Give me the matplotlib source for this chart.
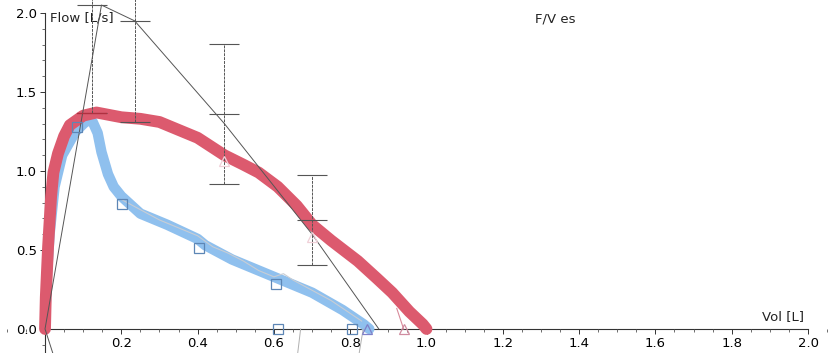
import numpy as np
import matplotlib
matplotlib.use('Agg')
import matplotlib.pyplot as plt
from matplotlib.ticker import MultipleLocator, FormatStrFormatter

# measured curve 1 (red, thick)
red_vol = [0.0, 0.002, 0.008, 0.016, 0.022, 0.034, 0.05, 0.065, 0.1, 0.135, 0.2, 0.25, 0.3, 0.35,
           0.40, 0.47, 0.52, 0.56, 0.61, 0.66, 0.70, 0.75, 0.82, 0.87, 0.91, 0.955, 0.99, 1.0]
red_flow = [0.0, 0.2, 0.52, 0.84, 0.99, 1.11, 1.22, 1.29, 1.35, 1.37, 1.34, 1.33, 1.31, 1.26,
            1.21, 1.10, 1.04, 0.99, 0.90, 0.78, 0.66, 0.56, 0.43, 0.32, 0.23, 0.11, 0.03, 0.0]

# measured curve 2 (blue, thick)
blue_vol = [0.0, 0.004, 0.012, 0.025, 0.045, 0.08, 0.11, 0.125, 0.138, 0.148, 0.165, 0.18, 0.2,
            0.25, 0.32, 0.4, 0.42, 0.49, 0.56, 0.61, 0.70, 0.78, 0.835, 0.85]
blue_flow = [0.0, 0.3, 0.6, 0.9, 1.1, 1.25, 1.32, 1.31, 1.24, 1.12, 0.98, 0.9, 0.84,
             0.73, 0.66, 0.57, 0.53, 0.44, 0.37, 0.32, 0.23, 0.12, 0.03, 0.0]

# thin trace over the blue curve
trace_vol = [0.2, 0.3, 0.4, 0.44, 0.48, 0.52, 0.56, 0.6, 0.625, 0.65, 0.75, 0.83]
trace_flow = [0.82, 0.69, 0.59, 0.52, 0.48, 0.43, 0.37, 0.33, 0.35, 0.31, 0.18, 0.05]

# predicted curve (thin dark line)
pred_vol = [0.02, 0.0, 0.148, 0.235, 0.47, 0.70, 0.875]
pred_flow = [-0.15, 0.0, 2.05, 1.95, 1.30, 0.60, 0.0]

# predicted values with limits
eb_vol = [0.122, 0.235, 0.468, 0.70]
eb_flow = [2.05, 1.95, 1.36, 0.69]
eb_err = [0.68, 0.64, 0.445, 0.285]

# markers
sq_vol = [0.083, 0.203, 0.403, 0.605, 0.61, 0.805]
sq_flow = [1.28, 0.79, 0.51, 0.285, 0.0, 0.0]
tri_vol = [0.468, 0.70]
tri_flow = [1.06, 0.58]

fig = plt.figure(figsize=(8.29, 3.53), dpi=100)
ax = fig.add_axes([0, 0, 1, 1])
ax.set_xlim(-0.118, 2.055)
ax.set_ylim(-0.152, 2.082)

ax.plot(blue_vol, blue_flow, color='#8fc0ee', lw=7.5, solid_capstyle='round', solid_joinstyle='round', zorder=2)
ax.plot(trace_vol, trace_flow, color='#c8cdd4', lw=0.8, zorder=3)
ax.plot(red_vol, red_flow, color='#dc5a6e', lw=8.5, solid_capstyle='round', solid_joinstyle='round', zorder=4)
ax.plot([0.922, 0.94], [0.13, 0.0], color='#d88a9a', lw=0.8, zorder=5)
ax.plot([0.67, 0.662], [0.0, -0.16], color='#b0b0b0', lw=0.7, zorder=5)
ax.plot([0.834, 0.823], [0.0, -0.16], color='#b0b0b0', lw=0.7, zorder=5)

ax.plot(pred_vol, pred_flow, color='#555555', lw=0.7, zorder=6)

eb = ax.errorbar(eb_vol, eb_flow, yerr=eb_err, fmt='_', ms=21.6, mew=0.8, color='#555555',
                 ecolor='#555555', elinewidth=0.7, capsize=10.8, capthick=0.8, zorder=6)
eb[2][0].set_linestyle((0, (3, 1)))
ax.plot([0.083, 0.161], [1.37, 1.37], color='#b03040', lw=0.9, zorder=6)

ax.plot(sq_vol, sq_flow, 's', ms=7, mfc='none', mec='#5d86b5', mew=0.9, zorder=7, clip_on=False)
ax.plot(tri_vol, tri_flow, '^', ms=7, mfc='none', mec='#f0d0d8', mew=0.9, zorder=7)
ax.plot([0.845], [0.0], '^', ms=7, mfc='none', mec='#7f80c8', mew=0.9, zorder=7, clip_on=False)
ax.plot([0.94], [0.0], '^', ms=7, mfc='none', mec='#d08ca0', mew=0.9, zorder=7, clip_on=False)

for s in ['top', 'right']:
    ax.spines[s].set_visible(False)
ax.spines['left'].set_position(('data', 0))
ax.spines['bottom'].set_position(('data', 0))
ax.spines['left'].set_bounds(-0.2, 2.0)
ax.spines['bottom'].set_bounds(0, 2.0)
for s in ['left', 'bottom']:
    ax.spines[s].set_color('#333333')
    ax.spines[s].set_linewidth(0.8)
    ax.spines[s].set_zorder(1)

ax.set_xticks([0.2, 0.4, 0.6, 0.8, 1.0, 1.2, 1.4, 1.6, 1.8, 2.0])
ax.xaxis.set_minor_locator(MultipleLocator(0.05))
ax.set_yticks([0.0, 0.5, 1.0, 1.5, 2.0])
ax.yaxis.set_minor_locator(MultipleLocator(0.1))
ax.xaxis.set_major_formatter(FormatStrFormatter('%.1f'))
ax.yaxis.set_major_formatter(FormatStrFormatter('%.1f'))
ax.tick_params(which='major', length=3.5, width=0.7, color='#333333', labelsize=9.5, pad=2.5)
ax.tick_params(which='minor', length=2, width=0.6, color='#555555')

ax.text(0.012, 1.97, 'Flow [L/s]', fontsize=9.5, va='center', ha='left', color='#222222')
ax.text(1.99, 0.08, 'Vol [L]', fontsize=9.5, va='center', ha='right', color='#222222')
ax.text(1.284, 1.96, 'F/V es', fontsize=9.5, va='center', ha='left', color='#222222')

fig.savefig('out.png', dpi=100)
